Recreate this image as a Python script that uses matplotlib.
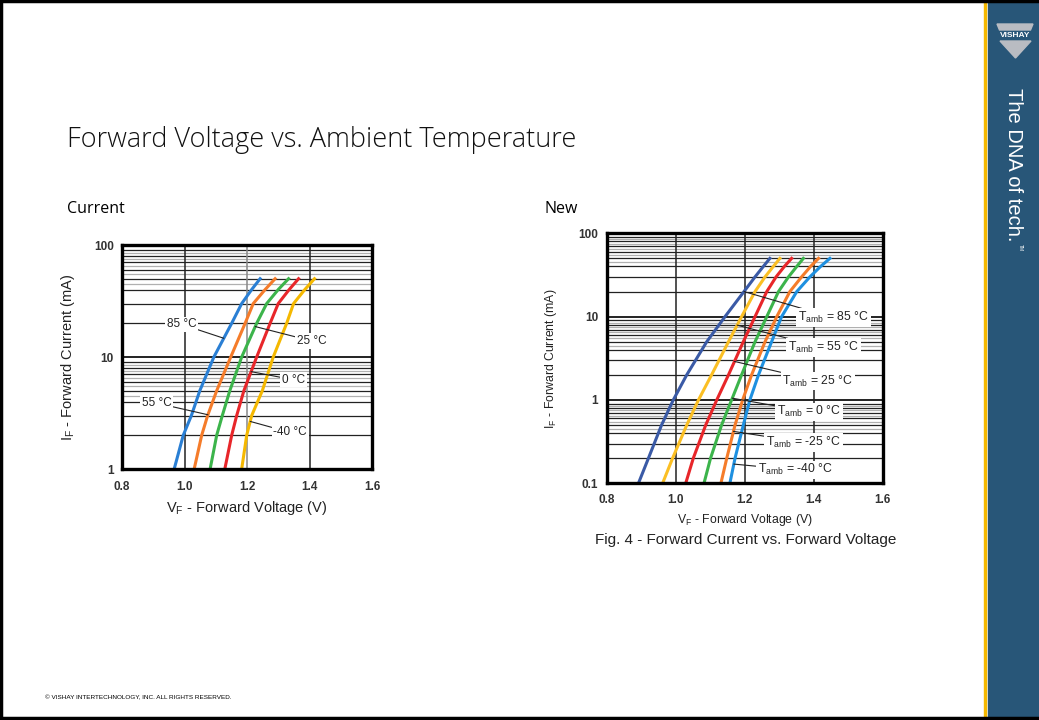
import matplotlib
matplotlib.use('Agg')
import matplotlib.pyplot as plt
from matplotlib.patches import Rectangle, Polygon
from matplotlib.lines import Line2D
from matplotlib.ticker import FixedLocator, NullLocator, NullFormatter
import numpy as np

plt.rcParams['font.family'] = ['Liberation Sans', 'DejaVu Sans']

# ---- data: left chart ("Current"), forward current (mA) vs forward voltage (V)
cur_old = [1, 2, 3, 5, 10, 20, 30, 40, 50]
vf_old = {
    '85 °C':  [0.967, 0.996, 1.022, 1.049, 1.094, 1.151, 1.183, 1.215, 1.242],
    '55 °C':  [1.031, 1.055, 1.074, 1.103, 1.148, 1.194, 1.220, 1.258, 1.290],
    '25 °C':  [1.082, 1.103, 1.121, 1.145, 1.183, 1.231, 1.263, 1.300, 1.333],
    '0 °C':   [1.129, 1.151, 1.167, 1.190, 1.231, 1.274, 1.300, 1.335, 1.365],
    '-40 °C': [1.183, 1.199, 1.215, 1.249, 1.284, 1.327, 1.349, 1.385, 1.416],
}
col_old = ['#2a7fd4', '#f57c2a', '#3cb44b', '#e8262a', '#f5b800']
# label text position (V, mA) and current where leader touches the curve
lab_old_pos = [(0.99, 19.6), (0.91, 3.88), (1.407, 13.9), (1.349, 6.26), (1.338, 2.12)]
lab_old_hit = [14.7, 3.05, 18.7, 7.4, 2.66]

# ---- data: right chart ("New")
cur_new = [0.1, 0.2, 0.5, 1, 2, 5, 10, 20, 30, 40, 50]
vf_new = {
    '85': [0.892, 0.921, 0.959, 0.993, 1.032, 1.090, 1.143, 1.198, 1.230, 1.254, 1.273],
    '55': [0.962, 0.991, 1.032, 1.066, 1.104, 1.153, 1.191, 1.230, 1.259, 1.283, 1.302],
    '25': [1.029, 1.051, 1.087, 1.119, 1.153, 1.196, 1.230, 1.264, 1.291, 1.315, 1.336],
    '0':  [1.082, 1.101, 1.133, 1.162, 1.191, 1.230, 1.264, 1.298, 1.327, 1.351, 1.370],
    '-25': [1.131, 1.148, 1.172, 1.194, 1.220, 1.259, 1.293, 1.331, 1.365, 1.391, 1.414],
    '-40': [1.157, 1.172, 1.196, 1.215, 1.240, 1.278, 1.307, 1.351, 1.389, 1.420, 1.447],
}
col_new = ['#3a5aa6', '#fbbf24', '#e8262a', '#3cb44b', '#f57c2a', '#1e90e0']
lab_new_pos = [(1.457, 9.73), (1.428, 4.25), (1.412, 1.69), (1.387, 0.72), (1.37, 0.31), (1.346, 0.145)]
lab_new_hit = [20, 7.9, 2.9, 1.05, 0.42, 0.17]

xticks = [0.8, 1.0, 1.2, 1.4, 1.6]


def log_grid(ax, lo, hi, vcols):
    dec = lo
    while dec < hi:
        for k in range(2, 10):
            ax.axhline(k * dec, color='#222222', lw=0.9, zorder=1)
        for k in (4.5, 5.5, 6.5, 7.5, 8.5):
            ax.axhline(k * dec, color='#b0b0b0', lw=0.9, zorder=1)
        if dec > lo:
            ax.axhline(dec, color='#111111', lw=1.3, zorder=1)
        dec *= 10
    for x, c in zip(xticks[1:-1], vcols):
        ax.axvline(x, color=c, lw=1.1, zorder=1)


def setup(ax, lo, hi, fs, pad, vcols):
    ax.set_yscale('log')
    ax.set_xlim(0.8, 1.6)
    ax.set_ylim(lo, hi)
    ax.set_xticks(xticks)
    ax.set_xticklabels([f'{x:.1f}' for x in xticks])
    yt = []
    d = lo
    while d <= hi * 1.001:
        yt.append(d)
        d *= 10
    ax.yaxis.set_major_locator(FixedLocator(yt))
    ax.set_yticklabels([f'{v:g}' for v in yt])
    ax.yaxis.set_minor_locator(NullLocator())
    ax.yaxis.set_minor_formatter(NullFormatter())
    ax.tick_params(axis='x', length=0, labelsize=fs, pad=pad)
    ax.tick_params(axis='y', length=0, labelsize=fs, pad=6)
    for lbl in ax.get_xticklabels() + ax.get_yticklabels():
        lbl.set_fontweight('bold')
        lbl.set_color('#333333')
    for s in ax.spines.values():
        s.set_linewidth(2.4)
        s.set_color('black')
        s.set_zorder(5)
    log_grid(ax, lo, hi, vcols)


fig = plt.figure(figsize=(10.39, 7.2), dpi=100)

# slide decorations
fig.add_artist(Rectangle((988/1039, 0), 51/1039, 1, transform=fig.transFigure, color='#285678', zorder=0))
fig.add_artist(Rectangle((983.5/1039, 0), 2.5/1039, 1, transform=fig.transFigure, color='#f5b800', zorder=0))
for seg in [((0.001, 0.001), (0, 1)), ((0, 1), (0.998, 0.998)), ((0, 1), (0.003, 0.003))]:
    fig.add_artist(Line2D(seg[0], seg[1], transform=fig.transFigure, color='black', lw=2.5))

# logo
fig.add_artist(Polygon([(997/1039, 1-24/720), (1033/1039, 1-24/720), (1030.5/1039, 1-30/720), (999.5/1039, 1-30/720)],
                       closed=True, transform=fig.transFigure, color='#b9bcc2'))
fig.add_artist(Polygon([(1000/1039, 1-41/720), (1031/1039, 1-41/720), (1015.5/1039, 1-58/720)],
                       closed=True, transform=fig.transFigure, color='#b9bcc2'))
fig.text(1015.5/1039, 1-35.5/720, 'VISHAY', color='white', fontsize=6, fontweight='bold',
         ha='center', va='center')
fig.text(1013/1039, 1-88/720, 'The DNA of tech.', color='white', fontsize=14.5, rotation=-90,
         ha='center', va='top')
fig.text(1020/1039, 1-244/720, 'TM', color='white', fontsize=3.5, rotation=-90, ha='center', va='top')

fig.text(67/1039, 1-140/720, 'Forward Voltage vs. Ambient Temperature', fontsize=19.5,
         family=['Open Sans', 'DejaVu Sans'], fontweight='light', va='center', ha='left', color='#111111')
fig.text(67/1039, 1-209/720, 'Current', fontsize=11.5, family=['Open Sans', 'DejaVu Sans'], va='center')
fig.text(544/1039, 1-209/720, 'New', fontsize=11.5, family=['Open Sans', 'DejaVu Sans'], va='center')
fig.text(45/1039, 1-698/720, '\u00a9 VISHAY INTERTECHNOLOGY, INC. ALL RIGHTS RESERVED.', fontsize=4.6, va='center')

# ---- left chart
ax1 = fig.add_axes([122/1039, 1-469/720, 250/1039, 224/720])
setup(ax1, 1, 100, 8.5, 9, ['#222222', '#888888', '#222222'])
for (name, v), c, pos, hit in zip(vf_old.items(), col_old, lab_old_pos, lab_old_hit):
    ax1.plot(v, cur_old, color=c, lw=2.2, zorder=3)
    vx = np.interp(np.log10(hit), np.log10(cur_old), v)
    ax1.annotate(name, xy=(vx, hit), xytext=pos, fontsize=8.5, ha='center', va='center', color='#222222',
                 bbox=dict(facecolor='white', edgecolor='none', pad=1.2),
                 arrowprops=dict(arrowstyle='-', color='#222222', lw=0.8, shrinkA=0, shrinkB=0), zorder=4)
ax1.set_xlabel('V$_\\mathregular{F}$ - Forward Voltage (V)', fontsize=10.5, labelpad=4, color='#222222')
ax1.set_ylabel('I$_\\mathregular{F}$ - Forward Current (mA)', fontsize=10.5, labelpad=12, color='#222222')

# ---- right chart
ax2 = fig.add_axes([606.7/1039, 1-483.3/720, 276/1039, 250/720])
setup(ax2, 0.1, 100, 8.5, 8, ['#222222', '#222222', '#222222'])
for (name, v), c, pos, hit in zip(vf_new.items(), col_new, lab_new_pos, lab_new_hit):
    ax2.plot(v, cur_new, color=c, lw=2.2, zorder=3)
    vx = np.interp(np.log10(hit), np.log10(cur_new), v)
    ax2.annotate(f'T$_\\mathregular{{amb}}$ = {name} °C', xy=(vx, hit), xytext=pos, fontsize=8.8,
                 ha='center', va='center', color='#222222',
                 bbox=dict(facecolor='white', edgecolor='none', pad=1.2),
                 arrowprops=dict(arrowstyle='-', color='#222222', lw=0.8, shrinkA=0, shrinkB=0), zorder=4)
ax2.set_xlabel('V$_\\mathregular{F}$ - Forward Voltage (V)', fontsize=8.8, labelpad=4, color='#222222')
ax2.set_ylabel('I$_\\mathregular{F}$ - Forward Current (mA)', fontsize=8.8, labelpad=14, color='#222222')
fig.text(746/1039, 1-540/720, 'Fig. 4 - Forward Current vs. Forward Voltage', fontsize=11,
         ha='center', va='center', color='#222222')

fig.savefig('out.png', dpi=100)
